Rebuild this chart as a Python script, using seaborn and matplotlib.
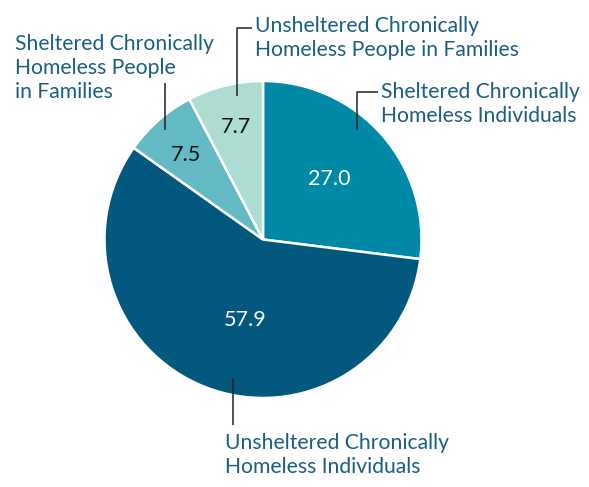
import matplotlib
matplotlib.use('Agg')
import matplotlib.pyplot as plt
import seaborn as sns
import numpy as np

# Data (share of chronically homeless people, %)
categories = [
    'Sheltered Chronically\nHomeless Individuals',
    'Unsheltered Chronically\nHomeless Individuals',
    'Sheltered Chronically\nHomeless People\nin Families',
    'Unsheltered Chronically\nHomeless People in Families',
]
values = [27.0, 57.9, 7.5, 7.7]
value_labels = ['27.0', '57.9', '7.5', '7.7']

colors = ['#0088a7', '#03587d', '#63b9c4', '#acdcd2']
value_colors = ['white', 'white', '#111111', '#111111']
text_color = '#1b5f80'

sns.set_theme(style='white')
plt.rcParams['font.family'] = ['Lato', 'DejaVu Sans']

W, H = 589, 487
fig = plt.figure(figsize=(W / 100, H / 100), dpi=100)
ax = fig.add_axes([0, 0, 1, 1])

cx, cy, R = 263, H - 239.5, 158.5
wedges, _ = ax.pie(values, colors=colors, startangle=90, counterclock=False,
                   center=(cx, cy), radius=R,
                   wedgeprops=dict(edgecolor='white', linewidth=1.8))
ax.set_xlim(0, W)
ax.set_ylim(0, H)
ax.set_aspect('equal')
ax.axis('off')

# value labels inside slices: radial fraction and angle shift per slice
radial = [0.57, 0.52, 0.72, 0.73]
shift = [1.0, 8.7, 1.4, -0.6]
for w, lab, col, rf, sh in zip(wedges, value_labels, value_colors, radial, shift):
    ang = np.deg2rad((w.theta1 + w.theta2) / 2 + sh)
    ax.text(cx + rf * R * np.cos(ang), cy + rf * R * np.sin(ang), lab,
            color=col, fontsize=15.5, ha='center', va='center')

# leader lines (pixel coords, y from top) and category label anchors
leaders = [
    [(357, 130), (357, 92), (378, 92)],
    [(233, 378), (233, 425)],
    [(165, 130), (165, 83)],
    [(237, 96), (237, 28), (252, 28)],
]
label_pos = [(381, 104, 'left'), (225, 455, 'left'), (15, 68, 'left'), (255, 38, 'left')]

for pts, (tx, ty, ha), cat in zip(leaders, label_pos, categories):
    xs = [p[0] for p in pts]
    ys = [H - p[1] for p in pts]
    ax.plot(xs, ys, color='#222222', lw=1.1, solid_capstyle='butt')
    ax.text(tx, H - ty, cat, color=text_color, fontsize=15.2, ha=ha, va='center',
            linespacing=1.22)

fig.savefig('out.png', dpi=100)
